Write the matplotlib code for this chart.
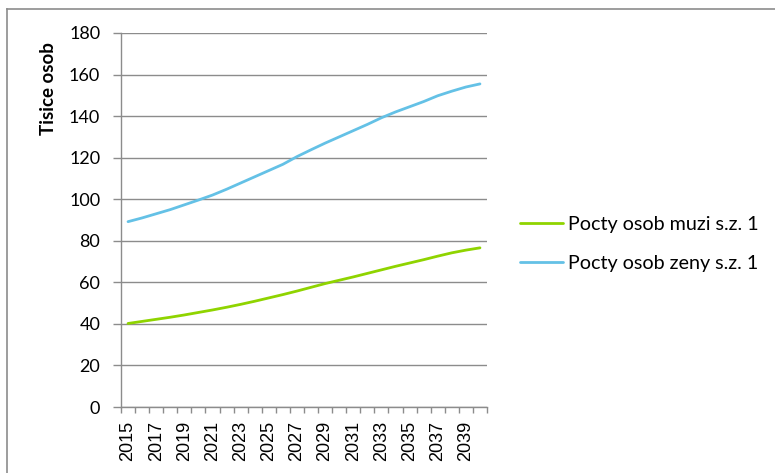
import matplotlib
matplotlib.use("Agg")
import matplotlib.pyplot as plt
from matplotlib.lines import Line2D

years = list(range(2015, 2041))
muzi = [40.2, 41.2, 42.2, 43.2, 44.3, 45.5, 46.7, 48.0, 49.4, 50.9, 52.5, 54.1, 55.8,
        57.6, 59.4, 61.0, 62.6, 64.3, 66.0, 67.7, 69.3, 70.9, 72.6, 74.2, 75.5, 76.6]
zeny = [89.2, 91.0, 93.0, 95.0, 97.3, 99.6, 102.0, 104.8, 107.8, 110.8, 113.8, 116.8, 120.5,
        123.8, 127.0, 130.0, 133.0, 136.0, 139.2, 142.0, 144.5, 147.0, 149.8, 152.0, 154.0, 155.5]
series_names = ["Pocty osob muzi s.z. 1", "Pocty osob zeny s.z. 1"]
y_ticks = list(range(0, 181, 20))
y_label = "Tisice osob"

plt.rcParams['font.family'] = ['Lato', 'DejaVu Sans']

W, H = 775, 473
fig = plt.figure(figsize=(W/100, H/100), dpi=100)
ax = fig.add_axes([121/W, 1-407/H, 366/W, 374/H])

x = list(range(len(years)))
l1, = ax.plot(x, muzi, color='#8fd400', lw=2.0, solid_capstyle='round')
l2, = ax.plot(x, zeny, color='#64c1e6', lw=2.0, solid_capstyle='round')

ax.set_xlim(-0.5, len(years) - 0.5)
ax.set_ylim(0, 180)
ax.set_yticks(y_ticks)
ax.grid(axis='y', color='#8c8c8c', lw=1.0)
ax.set_axisbelow(True)

ax.set_xticks(x[::2])
ax.set_xticklabels([str(y) for y in years[::2]], rotation=90, fontsize=13,
                   family=['Liberation Sans', 'DejaVu Sans'])
ax.set_xticks([i - 0.5 for i in range(len(years) + 1)], minor=True)
ax.tick_params(axis='x', which='major', length=0, pad=10)
ax.tick_params(axis='x', which='minor', length=4.5, color='#8c8c8c', width=1)
ax.tick_params(axis='y', length=6, color='#8c8c8c', width=1, labelsize=13, pad=9)

for s in ['top', 'right']:
    ax.spines[s].set_visible(False)
for s in ['left', 'bottom']:
    ax.spines[s].set_color('#8c8c8c')
    ax.spines[s].set_linewidth(1.0)

fig.text(49/W, 1-89/H, y_label, rotation=90, fontsize=13.5, fontweight='bold',
         ha='center', va='center')

fig.legend([l1, l2], series_names, loc='center left', bbox_to_anchor=(520/W, 1-244/H),
           frameon=False, fontsize=14.2, handlelength=2.2, handletextpad=0.25,
           labelspacing=1.1, borderaxespad=0, borderpad=0)

fig.add_artist(Line2D([6.5/W, 6.5/W], [0, 1-9/H], transform=fig.transFigure,
                      color='#8c8c8c', lw=1.2))
fig.add_artist(Line2D([6.5/W, 1], [1-9/H, 1-9/H], transform=fig.transFigure,
                      color='#8c8c8c', lw=1.2))

fig.savefig('out.png', dpi=100)
